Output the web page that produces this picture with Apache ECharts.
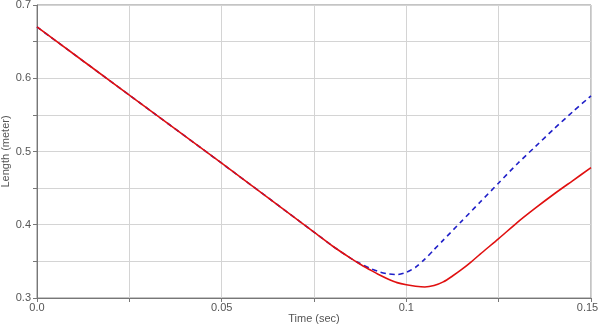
<!DOCTYPE html>
<html>
<head>
<meta charset="utf-8">
<script src="https://cdn.jsdelivr.net/npm/echarts@6/dist/echarts.min.js"></script>
<style>html,body{margin:0;padding:0;background:#fff}#c{width:600px;height:329px}</style>
</head>
<body>
<div id="c"></div>
<script>
var redTime  = [0, 0.025, 0.05, 0.075, 0.08, 0.085, 0.0875, 0.09, 0.0925, 0.095, 0.0975, 0.1, 0.1025, 0.105, 0.1075, 0.11, 0.1125, 0.115, 0.1175, 0.12, 0.125, 0.13, 0.135, 0.14, 0.145, 0.15];
var redLength = [0.670, 0.577, 0.484, 0.390, 0.371, 0.354, 0.346, 0.339, 0.332, 0.326, 0.321, 0.318, 0.316, 0.315, 0.317, 0.322, 0.330, 0.339, 0.349, 0.360, 0.381, 0.403, 0.423, 0.442, 0.460, 0.478];
var blueTime  = [0, 0.025, 0.05, 0.075, 0.08, 0.085, 0.0875, 0.09, 0.0925, 0.095, 0.0975, 0.1, 0.1025, 0.105, 0.1075, 0.11, 0.115, 0.12, 0.125, 0.13, 0.135, 0.14, 0.145, 0.15];
var blueLength = [0.670, 0.577, 0.484, 0.390, 0.371, 0.354, 0.347, 0.341, 0.336, 0.333, 0.332, 0.335, 0.342, 0.353, 0.366, 0.379, 0.405, 0.431, 0.457, 0.483, 0.507, 0.531, 0.554, 0.576];
var xLabels = {0: '0.0', 0.05: '0.05', 0.1: '0.1', 0.15: '0.15'};
var yLabels = {0.3: '0.3', 0.4: '0.4', 0.5: '0.5', 0.6: '0.6', 0.7: '0.7'};

function pairs(xs, ys) { return xs.map(function (x, i) { return [x, ys[i]]; }); }
function lookup(map, v) {
  for (var k in map) { if (Math.abs(parseFloat(k) - v) < 1e-6) return map[k]; }
  return '';
}

var chart = echarts.init(document.getElementById('c'));
chart.setOption({
  animation: false,
  grid: { left: 37, right: 9, top: 5, bottom: 31, containLabel: false, outerBoundsMode: 'none', show: true, borderColor: '#888', borderWidth: 1, backgroundColor: '#fff' },
  xAxis: {
    type: 'value', min: 0, max: 0.15, interval: 0.025,
    name: 'Time (sec)', nameLocation: 'middle', nameGap: 15, nameMoveOverlap: false,
    nameTextStyle: { color: '#555', fontSize: 11, fontFamily: 'Liberation Sans' },
    axisLine: { show: true, lineStyle: { color: '#777', width: 1 } },
    axisTick: { show: true, length: 4, lineStyle: { color: '#777' } },
    axisLabel: {
      color: '#555', fontSize: 11, fontFamily: 'Liberation Sans', margin: 4, hideOverlap: false,
      formatter: function (v) {
        var s = lookup(xLabels, v);
        return Math.abs(v - 0.15) < 1e-6 ? '{e|' + s + '}' : s;
      },
      rich: { e: { color: '#555', fontSize: 11, fontFamily: 'Liberation Sans', padding: [0, 7, 0, 0] } }
    },
    splitLine: { show: true, lineStyle: { color: '#d4d4d4', width: 1 } }
  },
  yAxis: {
    type: 'value', min: 0.3, max: 0.7, interval: 0.05,
    name: 'Length (meter)', nameLocation: 'middle', nameGap: 26, nameMoveOverlap: false,
    nameTextStyle: { color: '#555', fontSize: 11, fontFamily: 'Liberation Sans' },
    axisLine: { show: true, lineStyle: { color: '#777', width: 1 } },
    axisTick: { show: true, length: 4, lineStyle: { color: '#777' } },
    axisLabel: { color: '#555', fontSize: 11, fontFamily: 'Liberation Sans', margin: 6, formatter: function (v) { return lookup(yLabels, v); } },
    splitLine: { show: true, lineStyle: { color: '#d4d4d4', width: 1 } }
  },
  series: [
    {
      type: 'line', data: pairs(blueTime, blueLength), showSymbol: false, smooth: 0.25,
      lineStyle: { color: '#1f1fc8', width: 1.6, type: [5, 4] }, z: 2
    },
    {
      type: 'line', data: pairs(redTime, redLength), showSymbol: false, smooth: 0.25,
      lineStyle: { color: '#e01010', width: 1.6 }, z: 3
    }
  ]
});
</script>
</body>
</html>
